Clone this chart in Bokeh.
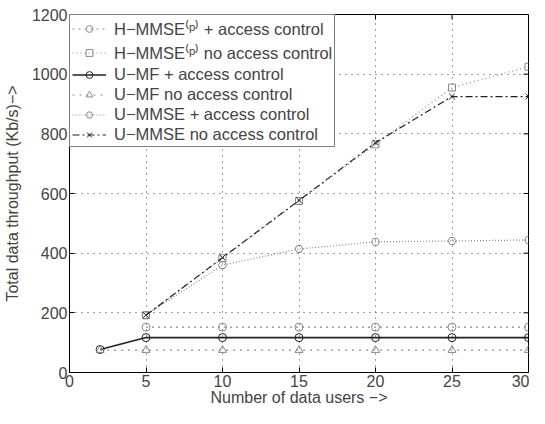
from bokeh.plotting import figure
from bokeh.models import Legend, LegendItem, FixedTicker, Range1d
from bokeh.embed import file_html
from bokeh.resources import INLINE

users = [5, 10, 15, 20, 25, 30]
users_mf = [2, 5, 10, 15, 20, 25, 30]

hmmse_ac = [152, 152, 152, 152, 152, 152]
hmmse_noac = [192, 383, 575, 765, 955, 1025]
umf_ac = [77, 117, 117, 117, 117, 117, 117]
umf_noac = [75, 75, 75, 75, 75, 75, 75]
ummse_ac = [192, 360, 414, 438, 441, 444]
ummse_noac = [192, 385, 577, 770, 925, 925]

labels = [
    "H\u2212MMSE\u207d\u1d56\u207e + access control",
    "H\u2212MMSE\u207d\u1d56\u207e no access control",
    "U\u2212MF + access control",
    "U\u2212MF no access control",
    "U\u2212MMSE + access control",
    "U\u2212MMSE no access control",
]

x_ticks = [0, 5, 10, 15, 20, 25, 30]
y_ticks = [0, 200, 400, 600, 800, 1000, 1200]

FONT = "Liberation Sans"

p = figure(width=529, height=408, output_backend="svg", toolbar_location=None,
           x_range=Range1d(0, 30), y_range=Range1d(0, 1200),
           min_border_top=14, min_border_right=1, min_border_left=64, min_border_bottom=0)
p.outline_line_color = "black"
p.outline_line_width = 1

for ax in (p.xaxis[0], p.yaxis[0]):
    ax.major_tick_in = 5
    ax.major_tick_out = 0
    ax.minor_tick_line_color = None
    ax.major_label_text_font = FONT
    ax.major_label_text_font_size = "16px"
    ax.axis_label_text_font = FONT
    ax.axis_label_text_font_size = "16px"
    ax.axis_label_text_font_style = "normal"
    ax.major_label_standoff = 2
    ax.axis_label_standoff = 0
    ax.axis_line_color = "black"

p.xaxis[0].major_label_standoff = 2
p.xaxis[0].axis_label_standoff = -1
p.yaxis[0].axis_label_standoff = 8
p.xaxis[0].ticker = FixedTicker(ticks=x_ticks)
p.yaxis[0].ticker = FixedTicker(ticks=y_ticks)
p.xaxis[0].axis_label = "Number of data users \u2212>"
p.yaxis[0].axis_label = "Total data throughput (Kb/s)\u2212>"

# inward ticks on the right and top edges of the box
xmax, ymax = x_ticks[-1], y_ticks[-1]
tx = 0.33
ty = 17
p.segment(x0=[xmax] * len(y_ticks), y0=y_ticks, x1=[xmax - tx] * len(y_ticks), y1=y_ticks,
          line_color="black", line_width=1)
p.segment(x0=x_ticks, y0=[ymax] * len(x_ticks), x1=x_ticks, y1=[ymax - ty] * len(x_ticks),
          line_color="black", line_width=1)

for g in (p.xgrid[0], p.ygrid[0]):
    g.grid_line_color = "#444444"
    g.grid_line_dash = "1 5"
    g.grid_line_width = 1
p.xgrid[0].ticker = FixedTicker(ticks=x_ticks)
p.ygrid[0].ticker = FixedTicker(ticks=y_ticks)

gray = "#8a8a8a"
items = []

def series(x, y, dash, color, marker, width, label, msize=8):
    r1 = p.line(x, y, line_color=color, line_dash=dash, line_width=width)
    r2 = p.scatter(x, y, marker=marker, size=msize, line_color=color,
                   fill_color=None, line_width=1)
    items.append(LegendItem(label=label, renderers=[r1, r2]))

series(users, hmmse_ac, "2 4", gray, "circle", 1.2, labels[0])
series(users, hmmse_noac, "1 3", gray, "square", 1.2, labels[1], 7)
series(users_mf, umf_ac, "solid", "#222222", "circle", 1.6, labels[2])
series(users_mf, umf_noac, "2 5", gray, "triangle", 1.2, labels[3])
series(users, ummse_ac, "1 2", gray, "hex", 1.2, labels[4])
series(users, ummse_noac, "7 3 2 3", "#222222", "x", 1.2, labels[5])

legend = Legend(items=items, location="top_left",
                label_text_font=FONT, label_text_font_size="16.5px",
                glyph_width=34, glyph_height=17, label_height=17,
                spacing=1, padding=2, margin=0, label_standoff=8,
                border_line_color="black", border_line_width=1,
                background_fill_color="white", background_fill_alpha=1)
p.add_layout(legend, "center")

open("out.html", "w").write(file_html(p, INLINE))
